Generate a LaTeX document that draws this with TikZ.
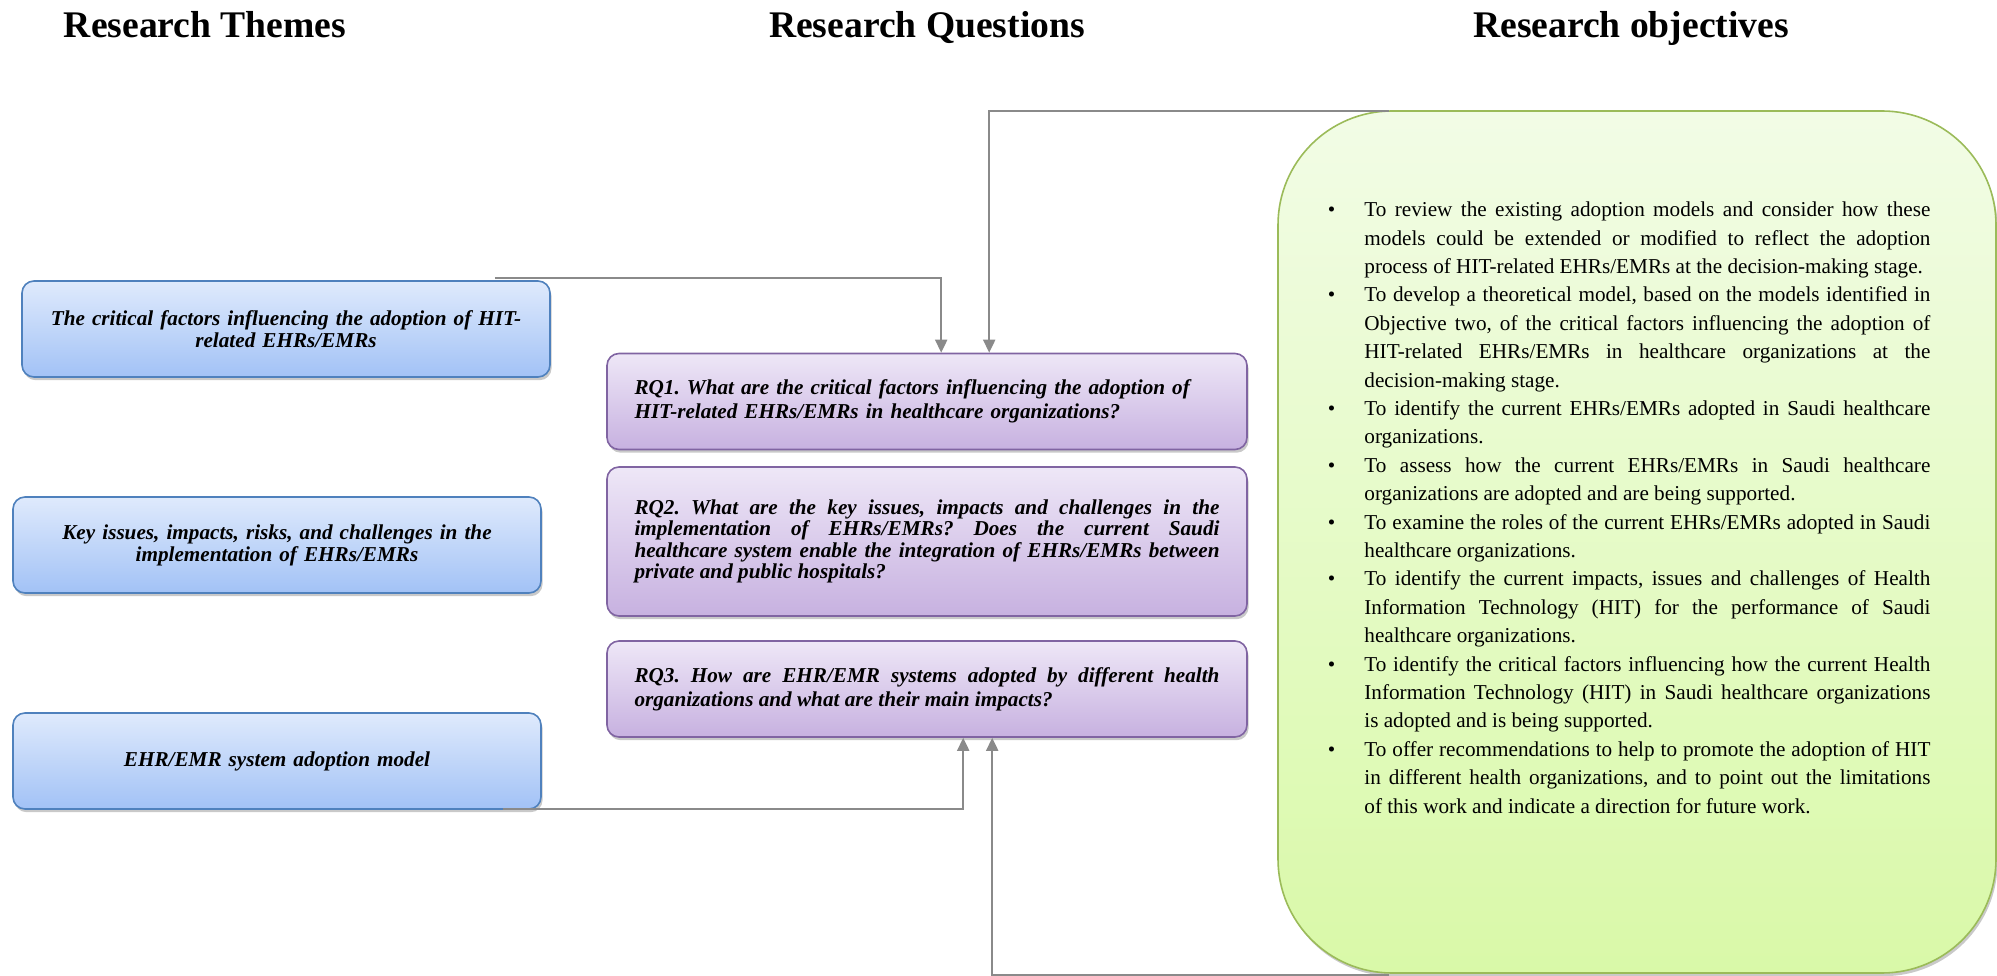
\documentclass[tikz,border=0pt]{standalone}
\usepackage{fontspec}
\setmainfont{Liberation Serif}
\usepackage{tikz}
\usetikzlibrary{arrows.meta,positioning,shadows,calc}

\definecolor{themeline}{HTML}{4F81BD}
\definecolor{themetop}{HTML}{DFEAFC}
\definecolor{themebot}{HTML}{A2C2F6}
\definecolor{rqline}{HTML}{8064A2}
\definecolor{rqtop}{HTML}{EEE7F7}
\definecolor{rqbot}{HTML}{C7B1E0}
\definecolor{aimline}{HTML}{9BBB59}
\definecolor{aimtop}{HTML}{F2FCE6}
\definecolor{aimbot}{HTML}{D9F9A8}
\definecolor{linkgray}{HTML}{8A8A8A}

\newcommand{\headfont}{\fontsize{18.8pt}{21pt}\selectfont\bfseries}
\newcommand{\rqfont}{\fontsize{10.6pt}{11pt}\selectfont\bfseries\itshape}
\newcommand{\aimfont}{\fontsize{10.6pt}{14.2pt}\selectfont}
\hyphenpenalty=10000
\exhyphenpenalty=10000
\frenchspacing

\begin{document}
\begin{tikzpicture}[x=0.5pt,y=0.5pt,>={Triangle[length=6.5pt,width=6pt]},
  theme/.style={draw=themeline,line width=0.8pt,rounded corners=6pt,top color=themetop,bottom color=themebot,
    minimum width=264pt,minimum height=48pt,text width=250pt,align=center,inner sep=0pt,font=\rqfont,
    drop shadow={shadow xshift=0.8pt,shadow yshift=-1.6pt,opacity=0.3,fill=black!70}},
  question/.style={draw=rqline,line width=0.8pt,rounded corners=6pt,top color=rqtop,bottom color=rqbot,
    minimum width=320pt,minimum height=48pt,text width=292.5pt,inner sep=0pt,font=\rqfont,
    drop shadow={shadow xshift=0.8pt,shadow yshift=-1.6pt,opacity=0.3,fill=black!70}},
  goalbox/.style={draw=aimline,line width=0.8pt,rounded corners=57pt,top color=aimtop,bottom color=aimbot,
    minimum width=359pt,minimum height=431pt,inner sep=0pt,
    drop shadow={shadow xshift=0.8pt,shadow yshift=-1.6pt,opacity=0.3,fill=black!70}},
  link/.style={draw=linkgray,line width=1pt,->},
]
\useasboundingbox (0,0) rectangle (1997,975);

% headings
\node[anchor=base,font=\headfont] (head1) at (205,937) {Research Themes};
\node[anchor=base,font=\headfont] (head2) at (927,937) {Research Questions};
\node[anchor=base,font=\headfont] (head3) at (1631,937) {Research objectives};

% themes
\node[theme] (theme1) at (286,646) {The critical factors influencing the adoption of HIT-\\related EHRs/EMRs};
\node[theme] (theme2) at (277,430) {Key issues, impacts, risks, and challenges in the\\implementation of EHRs/EMRs};
\node[theme] (theme3) at (277,214) {EHR/EMR system adoption model};

% questions
\node[question,align=left,font={\fontsize{10.6pt}{12pt}\selectfont\bfseries\itshape}] (rq1) at (927,573.5)
  {RQ1. What are the critical factors influencing the adoption of\\HIT-related EHRs/EMRs in healthcare organizations?};
\node[question,align=justify,minimum height=74.5pt,font={\fontsize{10.6pt}{10.6pt}\selectfont\bfseries\itshape}] (rq2) at (927,433.5)
  {RQ2. What are the key issues, impacts and challenges in the\linebreak
   implementation of EHRs/EMRs? Does the current Saudi\linebreak
   healthcare system enable the integration of EHRs/EMRs between\linebreak
   private and public hospitals?};
\node[question,align=justify,font={\fontsize{10.6pt}{12pt}\selectfont\bfseries\itshape}] (rq3) at (927,286)
  {RQ3. How are EHR/EMR systems adopted by different health\linebreak
   organizations and what are their main impacts?};

% objectives
\node[goalbox] (goals) at (1637,433) {};
\node[anchor=north west,text width=301.5pt,inner sep=0pt,align=justify,font=\aimfont] (aims) at (1327,787) {%
\begin{list}{\textbullet}{\setlength{\leftmargin}{18.5pt}\setlength{\labelsep}{14.5pt}\setlength{\labelwidth}{4pt}%
  \setlength{\itemsep}{0pt}\setlength{\parsep}{0pt}\setlength{\topsep}{0pt}\setlength{\partopsep}{0pt}}
\item To review the existing adoption models and consider how these\linebreak
  models could be extended or modified to reflect the adoption\linebreak
  process of HIT-related EHRs/EMRs at the decision-making stage.
\item To develop a theoretical model, based on the models identified in\linebreak
  Objective two, of the critical factors influencing the adoption of\linebreak
  HIT-related EHRs/EMRs in healthcare organizations at the\linebreak
  decision-making stage.
\item To identify the current EHRs/EMRs adopted in Saudi healthcare\linebreak
  organizations.
\item To assess how the current EHRs/EMRs in Saudi healthcare\linebreak
  organizations are adopted and are being supported.
\item To examine the roles of the current EHRs/EMRs adopted in Saudi\linebreak
  healthcare organizations.
\item To identify the current impacts, issues and challenges of Health\linebreak
  Information Technology (HIT) for the performance of Saudi\linebreak
  healthcare organizations.
\item To identify the critical factors influencing how the current Health\linebreak
  Information Technology (HIT) in Saudi healthcare organizations\linebreak
  is adopted and is being supported.
\item To offer recommendations to help to promote the adoption of HIT\linebreak
  in different health organizations, and to point out the limitations\linebreak
  of this work and indicate a direction for future work.
\end{list}};

% links
\draw[link] ($(theme1.north east)+(-56,2)$) -| ($(rq1.north west)+(335,0)$);
\draw[link] ($(goals.north west)+(112,-1)$) -| ($(rq1.north west)+(383,0)$);
\draw[link] ($(theme3.south east)+(-39,1)$) -| ($(rq3.south west)+(357,0)$);
\draw[link] ($(goals.south west)+(112,-1)$) -| ($(rq3.south west)+(386,0)$);
\end{tikzpicture}
\end{document}
